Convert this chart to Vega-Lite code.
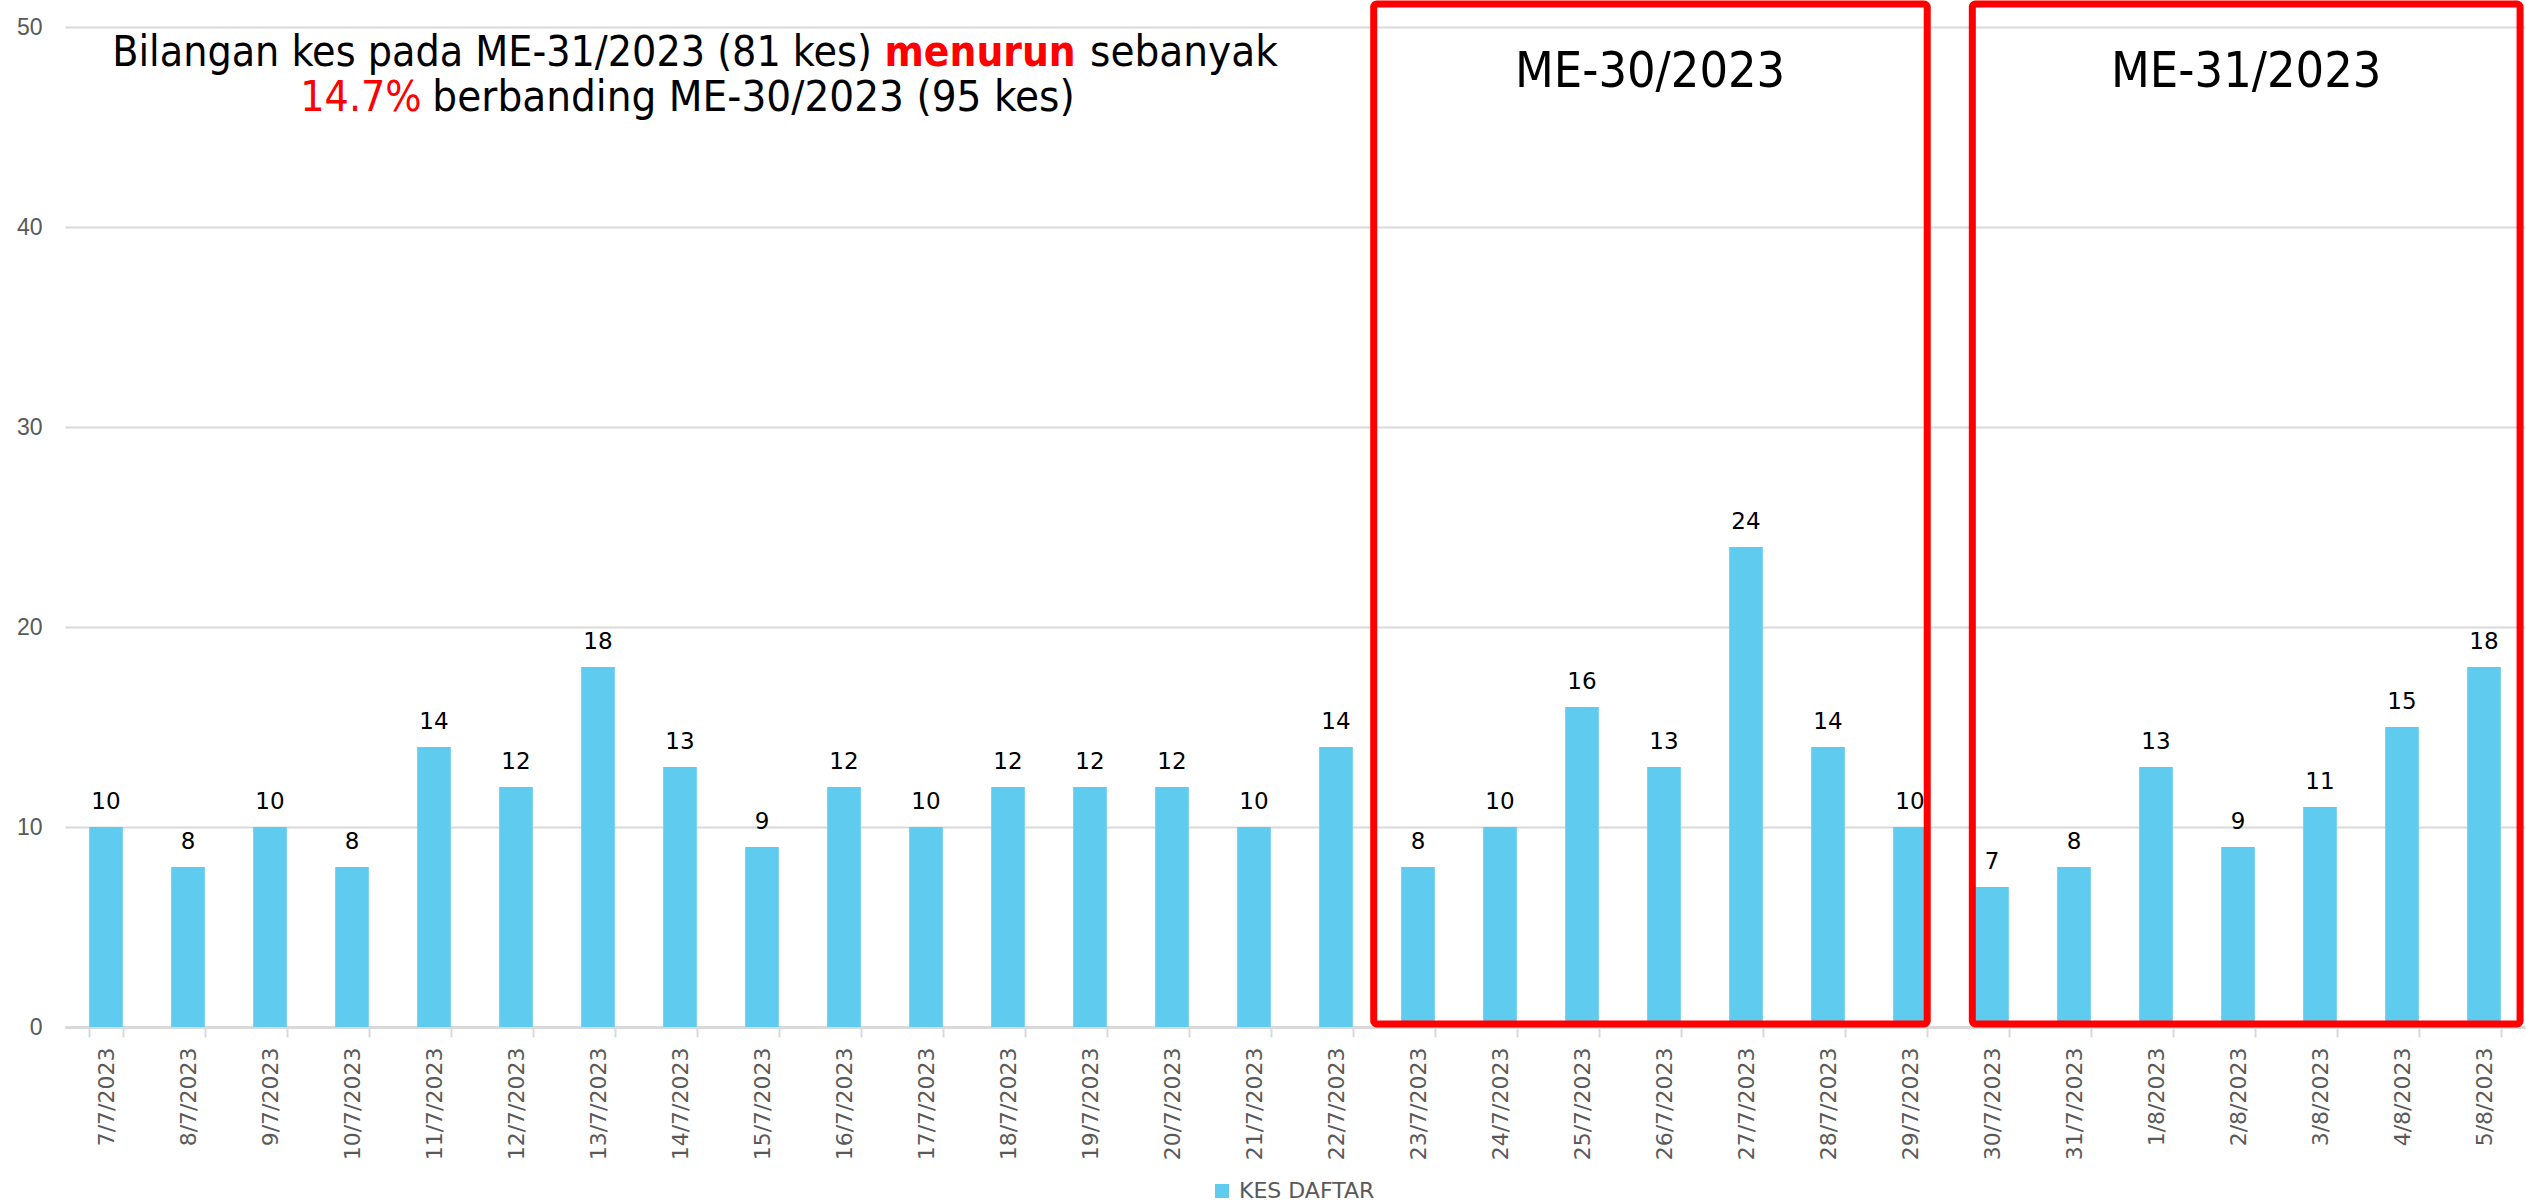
{
  "$schema": "https://vega.github.io/schema/vega-lite/v6.json",
  "width": 2460,
  "height": 1000,
  "autosize": {"type": "none"},
  "padding": {"left": 65, "top": 27, "right": 1, "bottom": 177},
  "background": "#ffffff",
  "config": {"view": {"stroke": null}},
  "datasets": {
    "cases": [
      {"date": "7/7/2023", "cases": 10},
      {"date": "8/7/2023", "cases": 8},
      {"date": "9/7/2023", "cases": 10},
      {"date": "10/7/2023", "cases": 8},
      {"date": "11/7/2023", "cases": 14},
      {"date": "12/7/2023", "cases": 12},
      {"date": "13/7/2023", "cases": 18},
      {"date": "14/7/2023", "cases": 13},
      {"date": "15/7/2023", "cases": 9},
      {"date": "16/7/2023", "cases": 12},
      {"date": "17/7/2023", "cases": 10},
      {"date": "18/7/2023", "cases": 12},
      {"date": "19/7/2023", "cases": 12},
      {"date": "20/7/2023", "cases": 12},
      {"date": "21/7/2023", "cases": 10},
      {"date": "22/7/2023", "cases": 14},
      {"date": "23/7/2023", "cases": 8},
      {"date": "24/7/2023", "cases": 10},
      {"date": "25/7/2023", "cases": 16},
      {"date": "26/7/2023", "cases": 13},
      {"date": "27/7/2023", "cases": 24},
      {"date": "28/7/2023", "cases": 14},
      {"date": "29/7/2023", "cases": 10},
      {"date": "30/7/2023", "cases": 7},
      {"date": "31/7/2023", "cases": 8},
      {"date": "1/8/2023", "cases": 13},
      {"date": "2/8/2023", "cases": 9},
      {"date": "3/8/2023", "cases": 11},
      {"date": "4/8/2023", "cases": 15},
      {"date": "5/8/2023", "cases": 18}
    ],
    "boxes": [
      {"week": "ME-30/2023", "from": 15.96, "to": 22.71, "low": 0.15, "high": 51.15, "labelPos": 19.33, "labelVal": 47.75},
      {"week": "ME-31/2023", "from": 23.26, "to": 29.94, "low": 0.15, "high": 51.15, "labelPos": 26.6, "labelVal": 47.75}
    ],
    "headline": [
      {"part": "Bilangan kes pada ME-31/2023 (81 kes)", "pos": 9.84, "level": 48.7, "side": "end", "red": false},
      {"part": "menurun", "pos": 11.16, "level": 48.7, "side": "mid", "red": true},
      {"part": "sebanyak", "pos": 12.5, "level": 48.7, "side": "start", "red": false},
      {"part": "14.7%", "pos": 4.35, "level": 46.45, "side": "end", "red": true},
      {"part": "berbanding ME-30/2023 (95 kes)", "pos": 4.48, "level": 46.45, "side": "start", "red": false}
    ]
  },
  "layer": [
    {
      "data": {"name": "cases"},
      "layer": [
        {
          "mark": {"type": "bar", "color": "#5ECBEF"},
          "encoding": {
            "x": {
              "field": "date", "type": "ordinal", "sort": null,
              "scale": {"paddingInner": 0.59, "paddingOuter": 0.295},
              "axis": {
                "title": null, "labelAngle": -90, "labelFont": "DejaVu Sans", "labelFontSize": 22,
                "labelColor": "#595959", "labelPadding": 10, "domainColor": "#D9D9D9", "domainWidth": 3,
                "tickColor": "#D9D9D9", "tickWidth": 2, "tickSize": 10, "tickBand": "extent", "grid": false
              }
            },
            "y": {
              "field": "cases", "type": "quantitative",
              "scale": {"domain": [0, 50]},
              "axis": {
                "title": null, "values": [0, 10, 20, 30, 40, 50], "domain": false, "ticks": false,
                "labelFont": "Liberation Sans", "labelFontSize": 23,
                "labelColor": "#595959", "labelPadding": 23, "gridColor": "#D9D9D9", "gridWidth": 2
              }
            },
            "color": {
              "datum": "KES DAFTAR",
              "scale": {"range": ["#5ECBEF"]},
              "legend": {
                "title": null, "orient": "none", "legendX": 1146, "legendY": 1153,
                "symbolType": "square", "symbolSize": 196, "symbolStrokeWidth": 0,
                "labelFont": "DejaVu Sans", "labelFontSize": 22, "labelColor": "#595959", "labelOffset": 6
              }
            }
          }
        },
        {
          "mark": {"type": "text", "font": "DejaVu Sans", "fontSize": 23, "color": "#000000", "baseline": "alphabetic", "dy": -18},
          "encoding": {
            "x": {"field": "date", "type": "ordinal", "sort": null},
            "y": {"field": "cases", "type": "quantitative", "scale": {"domain": [0, 50]}},
            "text": {"field": "cases", "type": "quantitative"}
          }
        }
      ]
    },
    {
      "data": {"name": "boxes"},
      "mark": {"type": "rect", "fill": null, "filled": false, "stroke": "#FF0000", "strokeWidth": 7, "cornerRadius": 3},
      "encoding": {
        "x": {"field": "from", "type": "quantitative", "scale": {"domain": [0, 30], "nice": false, "zero": false}, "axis": null},
        "x2": {"field": "to"},
        "y": {"field": "low", "type": "quantitative", "scale": {"domain": [0, 50]}},
        "y2": {"field": "high"}
      }
    },
    {
      "data": {"name": "boxes"},
      "mark": {"type": "text", "font": "Liberation Sans Narrow, DejaVu Sans Condensed, sans-serif", "fontSize": 50, "color": "#000000", "align": "center", "baseline": "middle"},
      "encoding": {
        "x": {"field": "labelPos", "type": "quantitative", "scale": {"domain": [0, 30], "nice": false, "zero": false}, "axis": null},
        "y": {"field": "labelVal", "type": "quantitative", "scale": {"domain": [0, 50]}},
        "text": {"field": "week"}
      }
    },
    {
      "data": {"name": "headline"},
      "transform": [{"filter": "datum.side == 'end'"}],
      "mark": {"type": "text", "font": "Liberation Sans Narrow, DejaVu Sans Condensed, sans-serif", "fontSize": 42.5, "align": "right", "baseline": "middle"},
      "encoding": {
        "x": {"field": "pos", "type": "quantitative", "scale": {"domain": [0, 30], "nice": false, "zero": false}, "axis": null},
        "y": {"field": "level", "type": "quantitative", "scale": {"domain": [0, 50]}},
        "text": {"field": "part"},
        "color": {"condition": {"test": "datum.red", "value": "#FF0000"}, "value": "#000000"}
      }
    },
    {
      "data": {"name": "headline"},
      "transform": [{"filter": "datum.side == 'mid'"}],
      "mark": {"type": "text", "font": "Liberation Sans Narrow, DejaVu Sans Condensed, sans-serif", "fontSize": 42, "fontWeight": "bold", "color": "#FF0000", "align": "center", "baseline": "middle"},
      "encoding": {
        "x": {"field": "pos", "type": "quantitative", "scale": {"domain": [0, 30], "nice": false, "zero": false}, "axis": null},
        "y": {"field": "level", "type": "quantitative", "scale": {"domain": [0, 50]}},
        "text": {"field": "part"}
      }
    },
    {
      "data": {"name": "headline"},
      "transform": [{"filter": "datum.side == 'start'"}],
      "mark": {"type": "text", "font": "Liberation Sans Narrow, DejaVu Sans Condensed, sans-serif", "fontSize": 43.5, "color": "#000000", "align": "left", "baseline": "middle"},
      "encoding": {
        "x": {"field": "pos", "type": "quantitative", "scale": {"domain": [0, 30], "nice": false, "zero": false}, "axis": null},
        "y": {"field": "level", "type": "quantitative", "scale": {"domain": [0, 50]}},
        "text": {"field": "part"}
      }
    }
  ],
  "resolve": {"scale": {"x": "independent", "color": "independent"}, "axis": {"x": "independent"}}
}
